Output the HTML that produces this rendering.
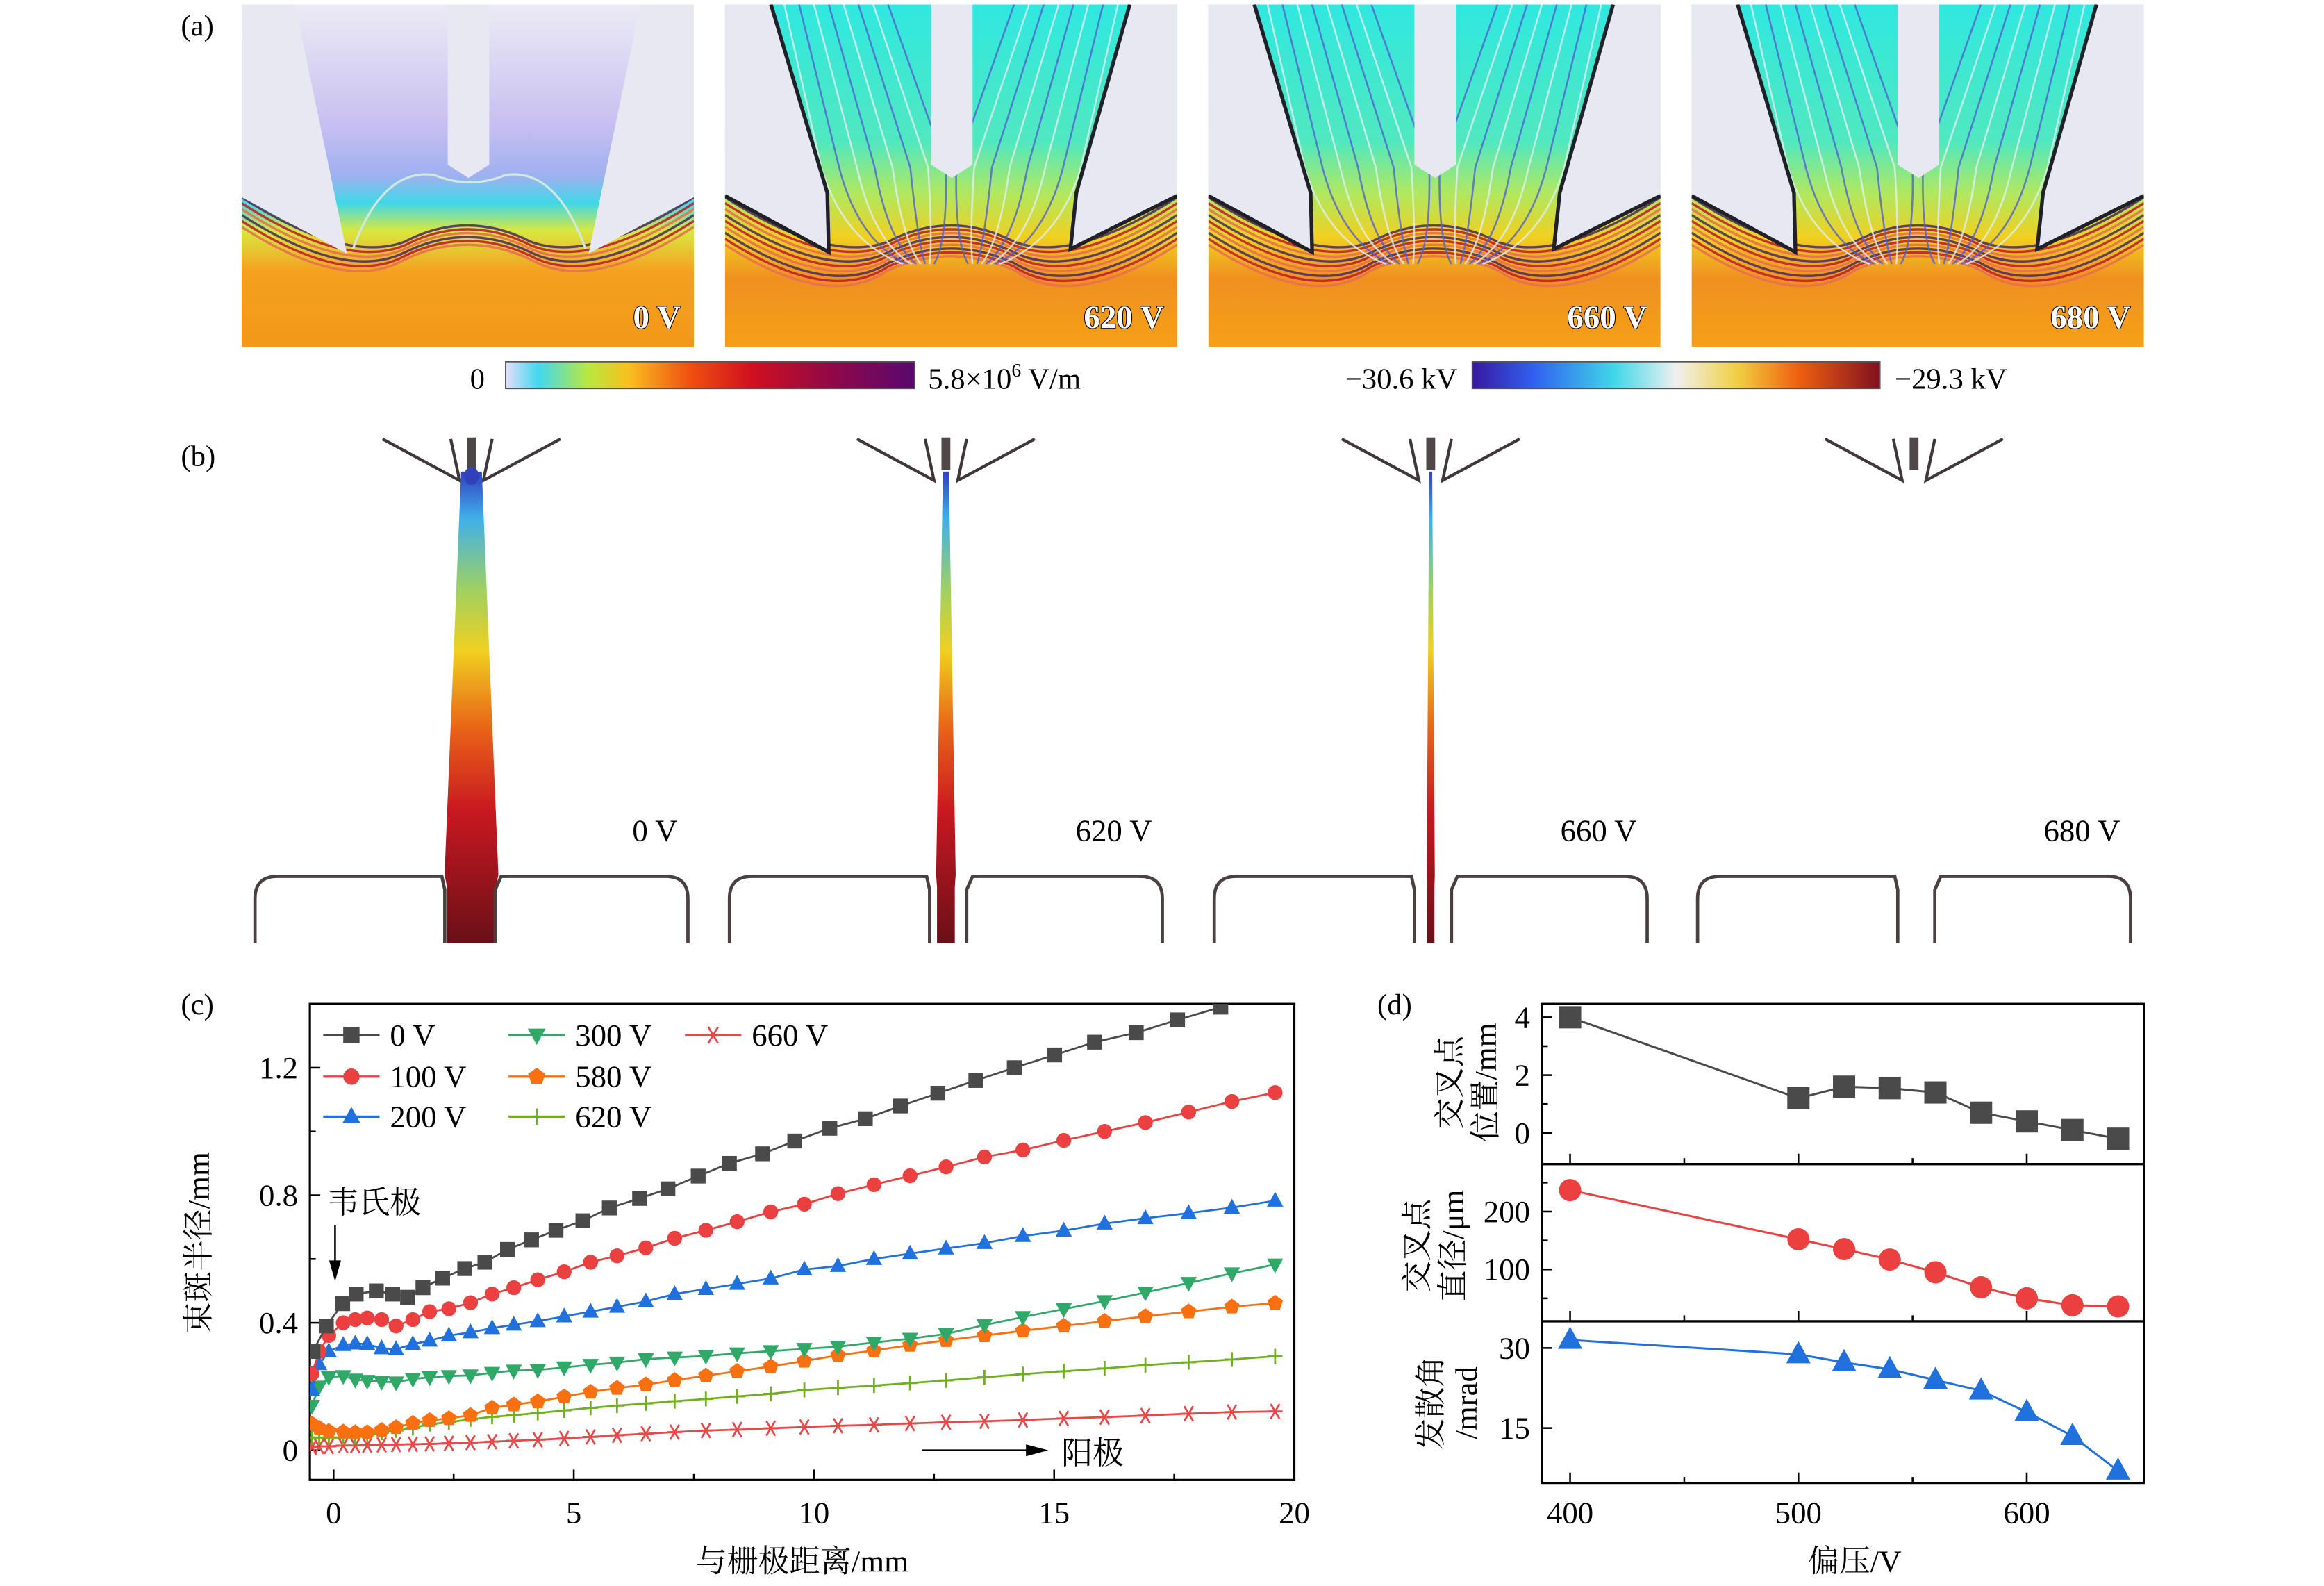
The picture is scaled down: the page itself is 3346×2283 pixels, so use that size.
<!DOCTYPE html>
<html><head><meta charset="utf-8">
<style>
html,body{margin:0;padding:0;background:#fff;}
svg{display:block;font-family:"Liberation Serif","Noto Serif CJK SC",serif;}
</style></head>
<body>
<svg id="fig" xmlns="http://www.w3.org/2000/svg" width="3346" height="2283" viewBox="0 0 1567.5 1069.5">
<defs>
  <linearGradient id="gA0" x1="0" y1="0" x2="0" y2="1">
    <stop offset="0" stop-color="#ecebf5"/><stop offset="0.35" stop-color="#c8bff0"/><stop offset="0.5" stop-color="#9fb0f0"/>
    <stop offset="0.58" stop-color="#40d8e8"/><stop offset="0.66" stop-color="#d8e840"/><stop offset="0.78" stop-color="#f5a020"/>
    <stop offset="1" stop-color="#f39818"/>
  </linearGradient>
  <linearGradient id="gA1" x1="0" y1="0" x2="0" y2="1">
    <stop offset="0" stop-color="#30e8e0"/><stop offset="0.4" stop-color="#50e8c0"/><stop offset="0.55" stop-color="#b0e860"/>
    <stop offset="0.68" stop-color="#f0d020"/><stop offset="0.8" stop-color="#f09020"/><stop offset="1" stop-color="#f5a018"/>
  </linearGradient>
  <radialGradient id="gBot" cx="0.5" cy="1" r="0.5">
    <stop offset="0" stop-color="#f8c818"/><stop offset="1" stop-color="#f8c818" stop-opacity="0"/>
  </radialGradient>
  <linearGradient id="cb1" x1="0" y1="0" x2="1" y2="0">
    <stop offset="0" stop-color="#e4def8"/><stop offset="0.08" stop-color="#40d8f0"/><stop offset="0.2" stop-color="#b8e840"/>
    <stop offset="0.3" stop-color="#f8c020"/><stop offset="0.45" stop-color="#f05010"/><stop offset="0.6" stop-color="#d01020"/>
    <stop offset="0.8" stop-color="#900848"/><stop offset="1" stop-color="#580870"/>
  </linearGradient>
  <linearGradient id="cb2" x1="0" y1="0" x2="1" y2="0">
    <stop offset="0" stop-color="#3818a0"/><stop offset="0.15" stop-color="#3060f0"/><stop offset="0.35" stop-color="#40d8e8"/>
    <stop offset="0.5" stop-color="#f0f0f0"/><stop offset="0.65" stop-color="#f0d040"/><stop offset="0.8" stop-color="#f06010"/>
    <stop offset="1" stop-color="#801020"/>
  </linearGradient>
  <linearGradient id="beam" x1="0" y1="0" x2="0" y2="1">
    <stop offset="0" stop-color="#3040c0"/><stop offset="0.1" stop-color="#40b0e8"/><stop offset="0.25" stop-color="#a0d060"/>
    <stop offset="0.38" stop-color="#f0d020"/><stop offset="0.55" stop-color="#e86018"/><stop offset="0.72" stop-color="#c81820"/>
    <stop offset="1" stop-color="#6a1018"/>
  </linearGradient>
  <clipPath id="clipA"><rect x="0" y="0" width="305" height="231"/></clipPath>
  <clipPath id="clipC"><rect x="209" y="677" width="664" height="321"/></clipPath>
  <clipPath id="clipD1"><rect x="1040" y="677" width="406" height="108"/></clipPath>
  <clipPath id="clipD2"><rect x="1040" y="785" width="406" height="106"/></clipPath>
  <clipPath id="clipD3"><rect x="1040" y="891" width="406" height="109"/></clipPath>
</defs>

<g id="panelA"></g>
<g id="panelB"></g>
<g id="panelC"></g>
<g id="panelD"></g>

<text x="122" y="24" font-size="20">(a)</text>
<text x="122" y="314" font-size="20">(b)</text>
<text x="122" y="684" font-size="20">(c)</text>
<text x="929" y="684" font-size="20">(d)</text>

<g>
  <rect x="341" y="244" width="276" height="18" fill="url(#cb1)" stroke="#555" stroke-width="0.8"/>
  <text x="317" y="262" font-size="20">0</text>
  <text x="626" y="262" font-size="20">5.8×10<tspan dy="-8" font-size="13">6</tspan><tspan dy="8"> V/m</tspan></text>
</g>
<g>
  <rect x="993" y="244" width="275" height="18" fill="url(#cb2)" stroke="#555" stroke-width="0.8"/>
  <text x="983" y="262" font-size="20" text-anchor="end">−30.6 kV</text>
  <text x="1278" y="262" font-size="20">−29.3 kV</text>
</g>
</svg>
<script>
// ---------- Panel (c) data ----------
const xZero = [-0.43,-0.15,0.19,0.47,0.89,1.23,1.54,1.86,2.27,2.73,3.15,3.62,4.12,4.63,5.19,5.74,6.37,6.96,7.59,8.24,8.93,9.60,10.33,11.07,11.80,12.58,13.37,14.17,15.01,15.84,16.71,17.57,18.47];
const yZero = [0.31,0.39,0.46,0.49,0.50,0.49,0.48,0.51,0.54,0.57,0.59,0.63,0.66,0.69,0.72,0.76,0.79,0.82,0.86,0.90,0.93,0.97,1.01,1.04,1.08,1.12,1.16,1.20,1.24,1.28,1.31,1.35,1.39];
const xCommon = [-0.45,-0.3,-0.1,0.2,0.45,0.7,1.0,1.3,1.65,2.0,2.4,2.85,3.3,3.75,4.25,4.8,5.35,5.9,6.5,7.1,7.75,8.4,9.1,9.8,10.5,11.25,12.0,12.75,13.55,14.35,15.2,16.05,16.9,17.8,18.7,19.6];
const y100 = [0.24,0.31,0.36,0.40,0.41,0.415,0.41,0.39,0.41,0.435,0.444,0.463,0.49,0.51,0.535,0.56,0.59,0.61,0.635,0.665,0.69,0.717,0.748,0.772,0.805,0.833,0.861,0.889,0.92,0.942,0.972,1.0,1.028,1.061,1.094,1.122];
const y200 = [0.19,0.27,0.31,0.33,0.335,0.333,0.32,0.317,0.333,0.344,0.36,0.37,0.383,0.394,0.405,0.42,0.435,0.45,0.467,0.49,0.506,0.522,0.539,0.567,0.578,0.6,0.617,0.633,0.65,0.672,0.689,0.711,0.728,0.744,0.761,0.783];
const y300 = [0.14,0.2,0.23,0.233,0.222,0.218,0.215,0.213,0.224,0.229,0.233,0.235,0.243,0.25,0.252,0.26,0.268,0.275,0.286,0.291,0.296,0.304,0.311,0.318,0.325,0.338,0.35,0.365,0.393,0.418,0.443,0.468,0.495,0.525,0.555,0.583];
const y580 = [0.083,0.07,0.06,0.058,0.056,0.056,0.063,0.072,0.085,0.094,0.1,0.11,0.133,0.143,0.153,0.168,0.183,0.195,0.206,0.22,0.234,0.248,0.263,0.28,0.298,0.313,0.33,0.345,0.36,0.375,0.39,0.405,0.42,0.435,0.45,0.462];
const y620 = [0.04,0.04,0.04,0.04,0.042,0.047,0.055,0.062,0.07,0.082,0.088,0.097,0.105,0.11,0.117,0.125,0.133,0.14,0.147,0.154,0.161,0.169,0.177,0.189,0.196,0.203,0.211,0.219,0.229,0.239,0.248,0.257,0.267,0.276,0.285,0.295];
const y660 = [0.01,0.012,0.012,0.015,0.015,0.016,0.017,0.018,0.019,0.02,0.022,0.024,0.027,0.03,0.033,0.037,0.042,0.047,0.052,0.057,0.062,0.065,0.069,0.073,0.077,0.08,0.084,0.088,0.091,0.095,0.1,0.104,0.109,0.115,0.12,0.122];
const cXTicks = [0,5,10,15,20];
const cYTicks = [0,0.4,0.8,1.2];
const cYTickLabels = ["0","0.4","0.8","1.2"];

// ---------- Panel (d) data ----------
const bias = [400,500,520,540,560,580,600,620,640];
const crossPos = [4.0,1.2,1.6,1.55,1.4,0.7,0.4,0.1,-0.2];
const crossDiam = [237,152,135,117,95,69,50,38,36];
const divAngle = [31.5,28.8,27.3,26.0,24.0,22.0,18.0,13.5,7.0];
const dXTicks = [400,500,600];
const d1Ticks = [0,2,4];
const d2Ticks = [100,200];
const d3Ticks = [15,30];

const NS = "http://www.w3.org/2000/svg";
function mk(tag, attrs, parent){ const e=document.createElementNS(NS,tag); for(const k in attrs) e.setAttribute(k,attrs[k]); parent.appendChild(e); return e; }

// ---------- Panel A ----------
const pA = document.getElementById('panelA');
const aX = [163,489,815,1141], aLab=["0 V","620 V","660 V","680 V"];
aX.forEach((x0,i)=>{
  const outer = mk('g',{transform:`translate(${x0},3)`},pA);
  
  
  const g = mk('g',{'clip-path':'url(#clipA)'},outer);
  mk('rect',{x:0,y:0,width:305,height:231,fill: i===0?'url(#gA0)':'url(#gA1)'},g);
  mk('ellipse',{cx:152,cy:231,rx:140,ry:60,fill:'url(#gBot)'},g);
  const dark = i===0 ? 6 : 9;
  for(let k=0;k<dark;k++){
    const off = k*4;
    const col = k%3===0?'#503060':(k%3===1?'#c02030':'#e87050');
    mk('path',{d:`M0 ${130+off} Q 70 ${175+off} 110 ${160+off*0.6} Q 152 ${138+off*0.7} 195 ${160+off*0.6} Q 235 ${175+off} 305 ${130+off}`,fill:'none',stroke:col,'stroke-width':1.6,opacity:0.9},g);
  }
  if(i>0){
    for(let k=0;k<8;k++){
      const xl=40+k*10, xr=265-k*10;
      mk('path',{d:`M${xl} 0 L ${xl+25+k*2} 110 Q ${xl+40} 160 ${120+k*3} 175`,fill:'none',stroke: k%2?'#5060d0':'#e0f0f0','stroke-width':1.2,opacity:0.8},g);
      mk('path',{d:`M${xr} 0 L ${xr-25-k*2} 110 Q ${xr-40} 160 ${185-k*3} 175`,fill:'none',stroke: k%2?'#5060d0':'#e0f0f0','stroke-width':1.2,opacity:0.8},g);
    }
  } else {
    mk('path',{d:'M75 165 Q 95 110 130 115 Q 154 125 178 115 Q 212 110 232 165',fill:'none',stroke:'#d0e8e0','stroke-width':1.5},g);
  }
  const ec = '#e8e8f2';
  if(i===0){
    mk('polygon',{points:'0,0 36,0 71,168 0,130',fill:ec},g);
    mk('polygon',{points:'305,0 269,0 234,168 305,130',fill:ec},g);
  } else {
    mk('polygon',{points:'0,0 31,0 69,127 70,167 0,129',fill:ec},g);
    mk('polygon',{points:'305,0 273,0 237,127 233,165 305,129',fill:ec},g);
    mk('polyline',{points:'31,0 69,127 70,167 0,129',fill:'none',stroke:'#202028','stroke-width':2.5},g);
    mk('polyline',{points:'273,0 237,127 233,165 305,129',fill:'none',stroke:'#202028','stroke-width':2.5},g);
  }
  mk('polygon',{points:'139,0 167,0 167,108 153,117 139,108',fill:ec},g);
  const t = mk('text',{x:296,y:218,'font-size':22,'font-weight':'bold','text-anchor':'end',fill:'#fff',stroke:'#000','stroke-width':1,'paint-order':'stroke'},outer);
  t.textContent = aLab[i];
  
  
});

// ---------- Panel B ----------
const pB = document.getElementById('panelB');
const bCenters=[318,638,965,1291], bTopW=[7,2,1,0], bBotW=[33,12,5,0], bLab=["0 V","620 V","660 V","680 V"];
bCenters.forEach((c,i)=>{
  const g = mk('g',{},pB);
  
  
  mk('path',{d:`M${c-60} 296 L ${c-8} 324 L ${c-14} 296 M ${c+60} 296 L ${c+8} 324 L ${c+14} 296`,fill:'none',stroke:'#403838','stroke-width':2},g);
  mk('rect',{x:c-3,y:295,width:6,height:22,fill:'#504848'},g);
  if(bTopW[i]>0){
    const tw=bTopW[i], bw=bBotW[i];
    mk('polygon',{points:`${c-tw} 318 ${c+tw} 318 ${c+bw*0.55} 590 ${c+bw/2} 598 ${c+bw/2} 636 ${c-bw/2} 636 ${c-bw/2} 598 ${c-bw*0.55} 590`,fill:'url(#beam)'},g);
    if(i===0) mk('ellipse',{cx:c,cy:321,rx:5,ry:6,fill:'#3040b8'},g);
  }
  const gapL = i===0? c-18 : c-11, gapR = i===0? c+16 : c+14;
  const l0 = c-146, r1 = c+146;
  mk('path',{d:`M${l0} 636 L ${l0} 606 Q ${l0} 591 ${l0+15} 591 L ${gapL-2} 591 L ${gapL} 600 L ${gapL} 636`,fill:'none',stroke:'#4a4040','stroke-width':2.2},g);
  mk('path',{d:`M${gapR} 636 L ${gapR} 600 L ${gapR+4} 591 L ${r1-15} 591 Q ${r1} 591 ${r1} 606 L ${r1} 636`,fill:'none',stroke:'#4a4040','stroke-width':2.2},g);
  const t = mk('text',{x:c+139,y:567,'font-size':21,'text-anchor':'end'},g);
  t.textContent=bLab[i];
  
  
});

// ---------- Panel C ----------
const pC = document.getElementById('panelC');
const cx0=209,cx1=873,cy0=677,cy1=998;
const sx = v => 225 + v*32.4;
const sy = v => 978 - v*215;
mk('rect',{x:cx0,y:cy0,width:cx1-cx0,height:cy1-cy0,fill:'none',stroke:'#000','stroke-width':1.5},pC);
[0,2.5,5,7.5,10,12.5,15,17.5,20].forEach(v=>{
  const maj = v%5===0;
  mk('line',{x1:sx(v),x2:sx(v),y1:cy1,y2:cy1-(maj?7:4),stroke:'#000','stroke-width':1.2},pC);
});
cXTicks.forEach(v=>{ const t=mk('text',{x:sx(v),y:1027,'font-size':21,'text-anchor':'middle'},pC); t.textContent=v;
    });
[0,0.2,0.4,0.6,0.8,1.0,1.2].forEach((v,k)=>{
  const maj = k%2===0;
  mk('line',{x1:cx0,x2:cx0+(maj?7:4),y1:sy(v),y2:sy(v),stroke:'#000','stroke-width':1.2},pC);
});
cYTicks.forEach((v,k)=>{ const t=mk('text',{x:201,y:sy(v)+7,'font-size':21,'text-anchor':'end'},pC); t.textContent=cYTickLabels[k];
    });
const xt = mk('text',{x:541,y:1060,'font-size':21,'text-anchor':'middle'},pC); xt.textContent='与栅极距离/mm';
 
const yt = mk('text',{x:0,y:0,'font-size':21,'text-anchor':'middle',transform:'translate(141,838) rotate(-90)'},pC); yt.textContent='束斑半径/mm';
 

function marker(g,type,x,y,s,col){
  if(type==='sq') return mk('rect',{x:x-s,y:y-s,width:2*s,height:2*s,fill:col},g);
  if(type==='ci') return mk('circle',{cx:x,cy:y,r:s,fill:col},g);
  if(type==='tu') return mk('polygon',{points:`${x},${y-s*1.2} ${x+s*1.1},${y+s*0.8} ${x-s*1.1},${y+s*0.8}`,fill:col},g);
  if(type==='td') return mk('polygon',{points:`${x},${y+s*1.2} ${x+s*1.1},${y-s*0.8} ${x-s*1.1},${y-s*0.8}`,fill:col},g);
  if(type==='pe'){ let p=[]; for(let k=0;k<5;k++){const a=-Math.PI/2+k*2*Math.PI/5; p.push((x+s*1.1*Math.cos(a))+','+(y+s*1.1*Math.sin(a)));} return mk('polygon',{points:p.join(' '),fill:col},g); }
  if(type==='pl') return mk('path',{d:`M${x-s} ${y} H ${x+s} M ${x} ${y-s} V ${y+s}`,stroke:col,'stroke-width':1.3,fill:'none'},g);
  if(type==='st') return mk('path',{d:`M${x-s} ${y} H ${x+s} M ${x-s*0.6} ${y-s} L ${x+s*0.6} ${y+s} M ${x+s*0.6} ${y-s} L ${x-s*0.6} ${y+s}`,stroke:col,'stroke-width':1.3,fill:'none'},g);
}
const series = [
  {name:'0V',xs:xZero,ys:yZero,col:'#4a4a4a',m:'sq'},
  {name:'100V',xs:xCommon,ys:y100,col:'#ea4040',m:'ci'},
  {name:'200V',xs:xCommon,ys:y200,col:'#2070dd',m:'tu'},
  {name:'300V',xs:xCommon,ys:y300,col:'#30a868',m:'td'},
  {name:'580V',xs:xCommon,ys:y580,col:'#f87010',m:'pe'},
  {name:'620V',xs:xCommon,ys:y620,col:'#70b020',m:'pl'},
  {name:'660V',xs:xCommon,ys:y660,col:'#e84848',m:'st'}
];
const plotC = mk('g',{'clip-path':'url(#clipC)'},pC);
series.slice().reverse().forEach(s=>{
  const g = mk('g',{},plotC);
  
  
  const pts = s.xs.map((x,k)=>sx(x)+','+sy(s.ys[k])).join(' ');
  const ln = mk('polyline',{points:pts,fill:'none',stroke:s.col,'stroke-width':1.3},g);
  
  
  s.xs.forEach((x,k)=>{
    const m = marker(g,s.m,sx(x),sy(s.ys[k]),5,s.col);
    
    
  });
});
const legPos = [[218,698],[218,726],[218,753],[343,698],[343,726],[343,753],[462,698]];
const legLab = ['0 V','100 V','200 V','300 V','580 V','620 V','660 V'];
series.forEach((s,k)=>{
  const [lx,ly]=legPos[k];
  const g = mk('g',{},pC);
  
  
  mk('line',{x1:lx,x2:lx+38,y1:ly,y2:ly,stroke:s.col,'stroke-width':1.5},g);
  marker(g,s.m,lx+19,ly,5.5,s.col);
  const t=mk('text',{x:lx+45,y:ly+7,'font-size':21},g); t.textContent=legLab[k];
});
const a1 = mk('text',{x:221,y:818,'font-size':21},pC); a1.textContent='韦氏极';
 
mk('line',{x1:226,y1:826,x2:226,y2:852,stroke:'#000','stroke-width':1.2},pC);
mk('polygon',{points:'222,850 230,850 226,864',fill:'#000'},pC);
mk('line',{x1:622,y1:978,x2:694,y2:978,stroke:'#000','stroke-width':1.2},pC);
mk('polygon',{points:'692,974 692,982 707,978',fill:'#000'},pC);
const a2 = mk('text',{x:716,y:987,'font-size':21},pC); a2.textContent='阳极';
 

// ---------- Panel D ----------
const pD = document.getElementById('panelD');
const dx = v => 1059 + (v-400)*1.54;
const dy1 = v => 764 - v*19.5;
const dy2 = v => 856 - (v-100)*0.39;
const dy3 = v => 963 - (v-15)*3.6;
const subs = [
  {top:677,bot:785,f:dy1,ys:crossPos,col:'#4a4a4a',m:'sq',ticks:d1Ticks,minor:[1,3],clip:'url(#clipD1)',name:'crossover-position'},
  {top:785,bot:891,f:dy2,ys:crossDiam,col:'#ea4040',m:'ci',ticks:d2Ticks,minor:[50,150,250],clip:'url(#clipD2)',name:'crossover-diameter'},
  {top:891,bot:1000,f:dy3,ys:divAngle,col:'#2070dd',m:'tu',ticks:d3Ticks,minor:[],clip:'url(#clipD3)',name:'divergence-angle'}
];
subs.forEach(s=>{
  const g = mk('g',{},pD);
  
  
  mk('rect',{x:1040,y:s.top,width:406,height:s.bot-s.top,fill:'none',stroke:'#000','stroke-width':1.5},g);
  [400,450,500,550,600].forEach(v=>{
    mk('line',{x1:dx(v),x2:dx(v),y1:s.bot,y2:s.bot-(v%100===0?7:4),stroke:'#000','stroke-width':1.2},g);
  });
  s.ticks.forEach(v=>{
    mk('line',{x1:1040,x2:1047,y1:s.f(v),y2:s.f(v),stroke:'#000','stroke-width':1.2},g);
    const t=mk('text',{x:1032,y:s.f(v)+7,'font-size':21,'text-anchor':'end'},g); t.textContent=v;
     
  });
  s.minor.forEach(v=>{ mk('line',{x1:1040,x2:1044,y1:s.f(v),y2:s.f(v),stroke:'#000','stroke-width':1.2},g); });
  const pg = mk('g',{'clip-path':s.clip},g);
  const ln = mk('polyline',{points:bias.map((b,k)=>dx(b)+','+s.f(s.ys[k])).join(' '),fill:'none',stroke:s.col,'stroke-width':1.4},pg);
  
  
  bias.forEach((b,k)=>{
    const m = marker(pg,s.m,dx(b),s.f(s.ys[k]),7.5,s.col);
    
    
  });
});
dXTicks.forEach(v=>{ const t=mk('text',{x:dx(v),y:1027,'font-size':21,'text-anchor':'middle'},pD); t.textContent=v;
    });
const dxt = mk('text',{x:1251,y:1060,'font-size':21,'text-anchor':'middle'},pD); dxt.textContent='偏压/V';
 
function vlab(x,y,lines,name){
  const t = mk('text',{x:0,y:0,'font-size':21,'text-anchor':'middle',transform:`translate(${x},${y}) rotate(-90)`},pD);
   
  lines.forEach((s,k)=>{ const ts=mk('tspan',{x:0,dy:k===0?0:24},t); ts.textContent=s; });
}
vlab(985,730,['交叉点','位置/mm'],'y-title-position');
vlab(963,840,['交叉点','直径/μm'],'y-title-diameter');
vlab(972,946,['发散角','/mrad'],'y-title-angle');
</script>
</body></html>
